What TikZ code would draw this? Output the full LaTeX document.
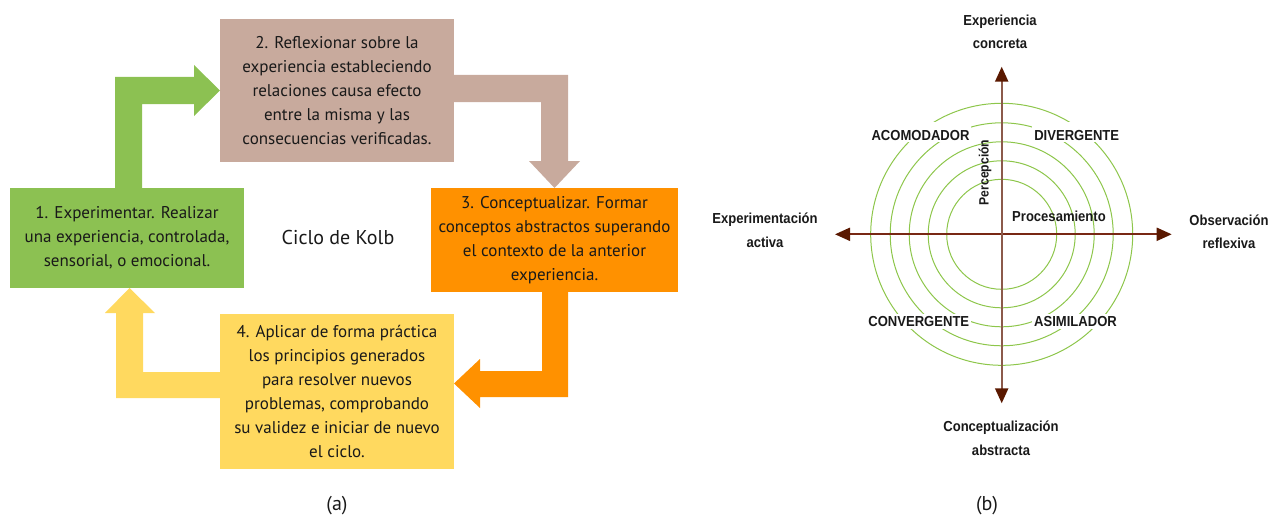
\documentclass[tikz,border=0pt]{standalone}
\usepackage{fontspec}
\setmainfont{PT Sans}
\newfontfamily\arialn[FakeStretch=0.9]{Liberation Sans}
\usetikzlibrary{arrows.meta}
\definecolor{kgreen}{RGB}{140,193,82}
\definecolor{kbrown}{RGB}{200,170,157}
\definecolor{korange}{RGB}{255,145,0}
\definecolor{kyellow}{RGB}{255,217,95}
\definecolor{ringc}{RGB}{141,198,75}
\definecolor{vaxc}{RGB}{140,90,75}
\definecolor{haxc}{RGB}{120,40,20}
\definecolor{tipc}{RGB}{90,24,0}
\definecolor{ink}{RGB}{25,25,25}
\tikzset{
  kbox/.style={rectangle, inner sep=0pt, align=center, text=ink,
    font=\fontsize{17}{24}\selectfont},
  ring/.style={draw=ringc, line width=1pt},
  axtip/.style={-{Triangle[length=15pt,width=13pt,color=tipc]}},
  quadlab/.style={font=\arialn\bfseries\fontsize{14.5}{17}\selectfont, text=ink,
    fill=white, inner xsep=2pt, anchor=base},
  toplab/.style={quadlab, text height=17pt, text depth=0pt, inner ysep=1.5pt},
  botlab/.style={quadlab, text height=11pt, text depth=0pt, inner ysep=2pt},
  axlab/.style={font=\arialn\bfseries\fontsize{14.5}{23.5}\selectfont, text=ink, align=center},
  caption/.style={font=\fontsize{20}{24}\selectfont, text=ink}
}
\begin{document}
\begin{tikzpicture}[x=1pt,y=-1pt]
\useasboundingbox (0,0) rectangle (1269,519);

% ---------- (a) Kolb cycle ----------
\node[kbox, fill=kgreen, minimum width=234pt, minimum height=100pt] (b1) at (127,238)
  {1. Experimentar. Realizar\\una experiencia, controlada,\\sensorial, o emocional.};
\node[kbox, fill=kbrown, minimum width=234pt, minimum height=143pt] (b2) at (337,90.5)
  {2. Reflexionar sobre la\\experiencia estableciendo\\relaciones causa efecto\\entre la misma y las\\consecuencias verificadas.};
\node[kbox, fill=korange, minimum width=247pt, minimum height=104pt] (b3) at (554.5,240)
  {3. Conceptualizar. Formar\\conceptos abstractos superando\\el contexto de la anterior\\experiencia.};
\node[kbox, fill=kyellow, minimum width=234pt, minimum height=155pt] (b4) at (337,391.5)
  {4. Aplicar de forma práctica\\los principios generados\\para resolver nuevos\\problemas, comprobando\\su validez e iniciar de nuevo\\el ciclo.};
\node[font=\fontsize{20}{24}\selectfont, text=ink] (kolb) at (338,237.5) {Ciclo de Kolb};

% block arrows
\fill[kgreen] (115,188) -- (115,77) -- (194,77) -- (194,65) -- (220,90.5) -- (194,116)
  -- (194,104) -- (142,104) -- (142,188) -- cycle;
\fill[kbrown] (454,75) -- (568,75) -- (568,161) -- (580,161) -- (554.5,188) -- (529,161)
  -- (541,161) -- (541,102) -- (454,102) -- cycle;
\fill[korange] (568,292) -- (568,397) -- (480,397) -- (480,408) -- (454,383.5) -- (480,359)
  -- (480,371) -- (542,371) -- (542,292) -- cycle;
\fill[kyellow] (220,398) -- (116,398) -- (116,313) -- (105,313) -- (129.5,288) -- (155,313)
  -- (143,313) -- (143,372) -- (220,372) -- cycle;

\node[caption] (capa) at (337,506) {(a)};

% ---------- (b) learning styles ----------
\coordinate (c) at (1001.7,234.3);
\foreach \r in {55,73.5,92.5,111.5,131} \draw[ring] (c) circle[radius=\r];

\coordinate (top) at (1001.7,66.7);
\coordinate (bot) at (1001.7,403.3);
\coordinate (lft) at (835,234.3);
\coordinate (rgt) at (1171.7,234.3);
\draw[haxc, line width=2pt, axtip] (c) -- (lft);
\draw[haxc, line width=2pt, axtip] (c) -- (rgt);
\draw[vaxc, line width=2.2pt, axtip] (c) -- (top);
\draw[vaxc, line width=2.2pt, axtip] (c) -- (bot);

\node[toplab] (acom) at (920.5,140.3) {ACOMODADOR};
\node[toplab] (div) at (1076.7,140.3) {DIVERGENTE};
\node[botlab] (conv) at (918.8,326.7) {CONVERGENTE};
\node[botlab] (asim) at (1075.5,326.7) {ASIMILADOR};

\node[font=\arialn\bfseries\fontsize{13.5}{16}\selectfont, text=ink, rotate=90] (perc) at (985,172.5) {Percepción};
\node[font=\arialn\bfseries\fontsize{14.5}{17}\selectfont, text=ink] (proc) at (1059,216.7) {Procesamiento};

\node[axlab] (ec) at (1000,31.7) {Experiencia\\concreta};
\node[axlab] (ea) at (765,230.5) {Experimentación\\activa};
\node[axlab] (or) at (1229,232) {Observación\\reflexiva};
\node[axlab] (ca) at (1001,438) {Conceptualización\\abstracta};

\node[caption] (capb) at (987,506) {(b)};
\end{tikzpicture}
\end{document}
